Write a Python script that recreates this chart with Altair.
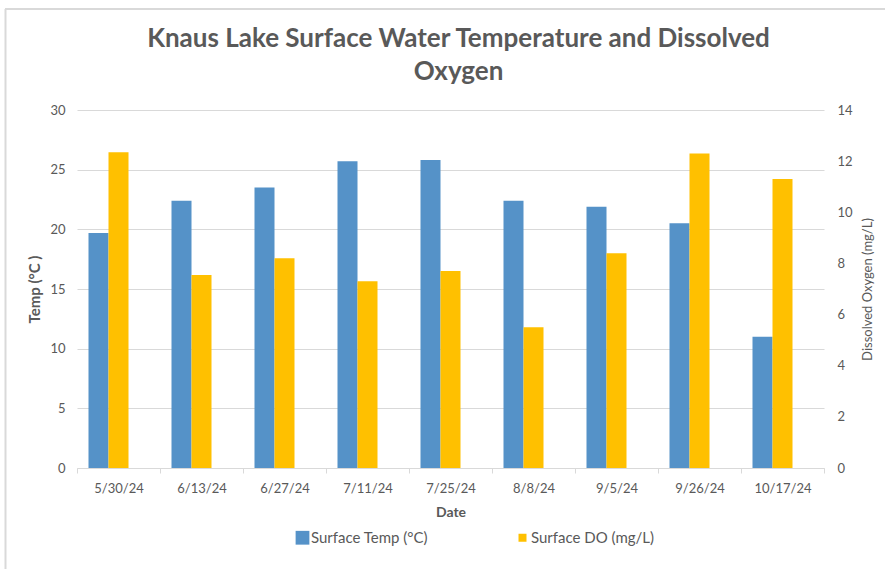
import altair as alt
import pandas as pd

# Sampling dates and surface readings
dates = ["5/30/24", "6/13/24", "6/27/24", "7/11/24", "7/25/24",
         "8/8/24", "9/5/24", "9/26/24", "10/17/24"]
temp_c = [19.7, 22.4, 23.5, 25.7, 25.8, 22.4, 21.9, 20.5, 11.0]
do_mgl = [12.35, 7.55, 8.2, 7.3, 7.7, 5.5, 8.4, 12.3, 11.3]

TEMP_LABEL = "Surface Temp (°C)"
DO_LABEL = "Surface DO (mg/L)"
series_names = [TEMP_LABEL, DO_LABEL]
series_colors = ["#5592C8", "#FFC000"]
slots = ["temp", "do", "spare"]  # third slot left empty, like the spreadsheet layout

temp_ticks = [0, 5, 10, 15, 20, 25, 30]
do_ticks = [0, 2, 4, 6, 8, 10, 12, 14]

df = pd.DataFrame({"date": dates, "temp": temp_c, "do": do_mgl})

FONT = "Lato"
GREY = "#595959"
LINE = "#d9d9d9"

PLOT_W, PLOT_H = 747, 358
PAD = {"left": 77, "top": 110, "right": 885 - 77 - PLOT_W, "bottom": 569 - 110 - PLOT_H}

x_enc = alt.X(
    "date:N", sort=dates, title="Date",
    scale=alt.Scale(paddingInner=0, paddingOuter=0),
    axis=alt.Axis(labelAngle=0, tickBand="extent", domainColor=LINE, tickColor=LINE,
                  tickSize=5, labelPadding=9, labelFontSize=13, labelColor=GREY,
                  titleFontSize=14, titleFontWeight="bold", titleColor=GREY,
                  titlePadding=10, grid=False),
)
offset_scale = alt.Scale(domain=slots, paddingInner=0, paddingOuter=0.575)
color_scale = alt.Scale(domain=series_names, range=series_colors)
legend = alt.Legend(
    title=None, orient="none", legendX=218, legendY=420, direction="horizontal",
    symbolType="square",
    symbolSize=alt.ExprRef(f"datum.value == '{TEMP_LABEL}' ? 190 : 64"),
    symbolStrokeWidth=0,
    labelFontSize=15, labelColor=GREY, labelOffset=1, columnPadding=86,
)

temp_bars = alt.Chart(df).transform_calculate(
    series=f"'{TEMP_LABEL}'", slot="'temp'"
).mark_bar().encode(
    x=x_enc,
    xOffset=alt.XOffset("slot:N", scale=offset_scale),
    y=alt.Y("temp:Q", scale=alt.Scale(domain=[0, 30]),
            axis=alt.Axis(values=temp_ticks, title="Temp (°C )", titleFontWeight="bold",
                          titleFontSize=15, titleColor=GREY, titlePadding=7,
                          labelFontSize=13, labelColor=GREY, labelPadding=12,
                          ticks=False, domain=False, grid=True, gridColor=LINE)),
    color=alt.Color("series:N", scale=color_scale, legend=legend),
)

do_bars = alt.Chart(df).transform_calculate(
    series=f"'{DO_LABEL}'", slot="'do'"
).mark_bar().encode(
    x=x_enc,
    xOffset=alt.XOffset("slot:N", scale=offset_scale),
    y=alt.Y("do:Q", scale=alt.Scale(domain=[0, 14]),
            axis=alt.Axis(orient="right", values=do_ticks, title="Dissolved Oxygen (mg/L)",
                          titleFontWeight="normal", titleFontSize=13, titleColor=GREY,
                          titleAngle=270, titlePadding=22,
                          labelFontSize=13, labelColor=GREY, labelPadding=13,
                          ticks=False, domain=False, grid=False)),
    color=alt.Color("series:N", scale=color_scale, legend=legend),
)

# Outer frame of the chart area
frame_data = alt.Data(values=[{"k": 0}])
frame_top = alt.Chart(frame_data).mark_rule(color=LINE, strokeWidth=2).encode(
    x=alt.value(-72), x2=alt.value(PLOT_W + PAD["right"] + 5), y=alt.value(-101)
)
frame_left = alt.Chart(frame_data).mark_rule(color=LINE, strokeWidth=2).encode(
    x=alt.value(-71.5), y=alt.value(-101), y2=alt.value(PLOT_H + PAD["bottom"])
)

chart = alt.layer(temp_bars, do_bars, frame_top, frame_left).resolve_scale(
    y="independent"
).properties(
    width=PLOT_W, height=PLOT_H,
    autosize=alt.AutoSizeParams(type="none"),
    padding=PAD,
    title=alt.Title(
        ["Knaus Lake Surface Water Temperature and Dissolved", "Oxygen"],
        font=FONT, fontSize=26, fontWeight="bold", color=GREY,
        anchor="middle", frame="group", lineHeight=33, offset=0, dx=8,
        baseline="alphabetic", dy=98,
    ),
).configure(
    font=FONT, background="white"
).configure_view(strokeWidth=0)

chart.save("out.html", embed_options={"renderer": "svg", "actions": False})
